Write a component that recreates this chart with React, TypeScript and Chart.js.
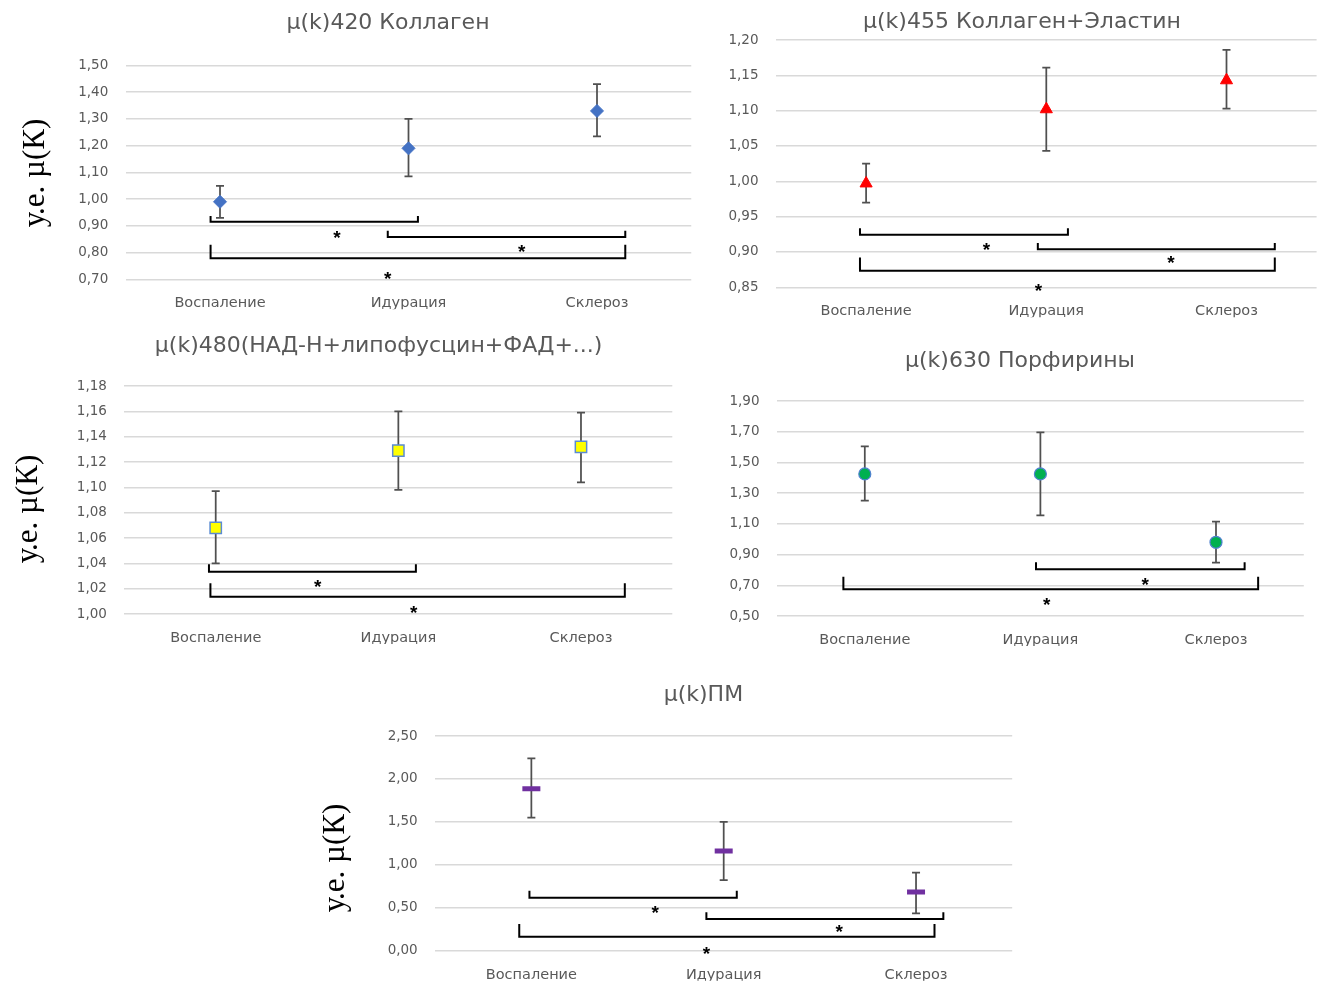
import React, { useEffect, useRef } from "react";
import { Chart, registerables } from "chart.js";

Chart.register(...registerables);

// ---------- data ----------
const categories = ["Воспаление", "Идурация", "Склероз"];

// µ(k)420 Коллаген
const k420Axis = [0.7, 1.5, 0.1];
const k420Mean = [0.99, 1.19, 1.33];
const k420Upper = [1.05, 1.3, 1.43];
const k420Lower = [0.93, 1.085, 1.235];
// [fromCategory, toCategory, lineValue, tickTopValue]
const k420Brackets = [
  [-0.05, 1.05, 0.915, 0.937],
  [0.89, 2.15, 0.858, 0.882],
  [-0.05, 2.15, 0.779, 0.829],
];
const k420Stars = [
  [0.62, 0.874],
  [1.6, 0.822],
  [0.89, 0.721],
];

// µ(k)455 Коллаген+Эластин
const k455Axis = [0.85, 1.2, 0.05];
const k455Mean = [0.997, 1.102, 1.143];
const k455Upper = [1.025, 1.161, 1.186];
const k455Lower = [0.97, 1.043, 1.103];
const k455Brackets = [
  [-0.034, 1.12, 0.9245, 0.9335],
  [0.953, 2.268, 0.9038, 0.9127],
  [-0.034, 2.268, 0.8735, 0.892],
];
const k455Stars = [
  [0.668, 0.909],
  [1.692, 0.891],
  [0.957, 0.852],
];

// µ(k)480 (НАД-Н+липофусцин+ФАД+...)
const k480Axis = [1.0, 1.18, 0.02];
const k480Mean = [1.068, 1.129, 1.132];
const k480Upper = [1.097, 1.16, 1.159];
const k480Lower = [1.04, 1.098, 1.104];
const k480Brackets = [
  [-0.037, 1.096, 1.0334, 1.0392],
  [-0.029, 2.24, 1.0137, 1.0242],
];
const k480Stars = [
  [0.559, 1.025],
  [1.084, 1.0045],
];

// µ(k)630 Порфирины
const k630Axis = [0.5, 1.9, 0.2];
const k630Mean = [1.425, 1.425, 0.98];
const k630Upper = [1.605, 1.696, 1.114];
const k630Lower = [1.251, 1.156, 0.847];
const k630Brackets = [
  [0.975, 2.163, 0.804, 0.85],
  [-0.122, 2.24, 0.674, 0.756],
];
const k630Stars = [
  [1.597, 0.734],
  [1.036, 0.6],
];

// µ(k)ПМ
const kPMAxis = [0.0, 2.5, 0.5];
const kPMMean = [1.886, 1.161, 0.684];
const kPMUpper = [2.24, 1.499, 0.908];
const kPMLower = [1.549, 0.823, 0.435];
const kPMBrackets = [
  [-0.01, 1.068, 0.617, 0.699],
  [0.91, 2.142, 0.369, 0.447],
  [-0.063, 2.096, 0.163, 0.311],
];
const kPMStars = [
  [0.644, 0.501],
  [1.6, 0.272],
  [0.91, 0.02],
];

// ---------- styles / layout ----------
const TEXT_GRAY = "#595959";
const SANS = "'DejaVu Sans', sans-serif";
const TITLE_SIZE = 22;
const XTICK_SIZE = 14.5;
const YTICK_SIZE = 13.5;
const XH = 30;
const YW = 60;
const Y_TITLE_TEXT = "у.е. µ(К)";

type Spec = {
  title: string;
  axis: number[];
  mean: number[];
  upper: number[];
  lower: number[];
  brackets: number[][];
  stars: number[][];
  marker: any;
  box: { x: number; y: number; h: number };
  area: { l: number; t: number; r: number; b: number };
  titleCx: number;
  titleCy: number;
  labelCy: number;
  yTitle?: { cx: number; cy: number };
};

const specs: Spec[] = [
  {
    title: "µ(k)420 Коллаген",
    axis: k420Axis, mean: k420Mean, upper: k420Upper, lower: k420Lower,
    brackets: k420Brackets, stars: k420Stars,
    marker: { pointStyle: "rectRot", pointRadius: 6.5, pointBackgroundColor: "#4472C4", pointBorderColor: "#4472C4", pointBorderWidth: 1 },
    box: { x: 0, y: 0, h: 325 },
    area: { l: 125.75, t: 65.5, r: 691.25, b: 279.3 },
    titleCx: 388, titleCy: 23, labelCy: 303,
    yTitle: { cx: 36, cy: 173 },
  },
  {
    title: "µ(k)455 Коллаген+Эластин",
    axis: k455Axis, mean: k455Mean, upper: k455Upper, lower: k455Lower,
    brackets: k455Brackets, stars: k455Stars,
    marker: { pointStyle: "triangle", pointRadius: 7, pointBackgroundColor: "#FF0000", pointBorderColor: "#FF0000", pointBorderWidth: 1 },
    box: { x: 700, y: 0, h: 330 },
    area: { l: 776, t: 40, r: 1316.6, b: 287.3 },
    titleCx: 1022, titleCy: 22.7, labelCy: 311.7,
  },
  {
    title: "µ(k)480(НАД-Н+липофусцин+ФАД+...)",
    axis: k480Axis, mean: k480Mean, upper: k480Upper, lower: k480Lower,
    brackets: k480Brackets, stars: k480Stars,
    marker: { pointStyle: "rect", pointRadius: 8, pointBackgroundColor: "#FFFF00", pointBorderColor: "#5B8BD3", pointBorderWidth: 1.5 },
    box: { x: 0, y: 325, h: 335 },
    area: { l: 124.4, t: 386, r: 672.3, b: 614 },
    titleCx: 378.6, titleCy: 346.7, labelCy: 638.3,
    yTitle: { cx: 29, cy: 509 },
  },
  {
    title: "µ(k)630 Порфирины",
    axis: k630Axis, mean: k630Mean, upper: k630Upper, lower: k630Lower,
    brackets: k630Brackets, stars: k630Stars,
    marker: { pointStyle: "circle", pointRadius: 6, pointBackgroundColor: "#00B050", pointBorderColor: "#4F81D0", pointBorderWidth: 1.2 },
    box: { x: 700, y: 330, h: 335 },
    area: { l: 777, t: 401, r: 1303.8, b: 616 },
    titleCx: 1020, titleCy: 361, labelCy: 640,
  },
  {
    title: "µ(k)ПМ",
    axis: kPMAxis, mean: kPMMean, upper: kPMUpper, lower: kPMLower,
    brackets: kPMBrackets, stars: kPMStars,
    marker: { pointStyle: "line", pointRadius: 9, pointBorderColor: "#7030A0", pointBackgroundColor: "#7030A0", pointBorderWidth: 5 },
    box: { x: 300, y: 665, h: 320 },
    area: { l: 435.2, t: 736, r: 1012.2, b: 950.7 },
    titleCx: 703.4, titleCy: 695.5, labelCy: 975,
    yTitle: { cx: 336, cy: 858 },
  },
];

// ---------- plugins ----------
function errorBarPlugin(spec: Spec) {
  return {
    id: "errorBars",
    beforeDatasetsDraw(chart: any) {
      const { ctx, scales } = chart;
      const x = scales.x, y = scales.y;
      ctx.save();
      ctx.strokeStyle = "#505050";
      ctx.lineWidth = 1.75;
      const cap = 4;
      spec.upper.forEach((u, i) => {
        const px = x.getPixelForValue(i);
        const pu = y.getPixelForValue(u);
        const pl = y.getPixelForValue(spec.lower[i]);
        ctx.beginPath();
        ctx.moveTo(px, pu);
        ctx.lineTo(px, pl);
        ctx.moveTo(px - cap, pu);
        ctx.lineTo(px + cap, pu);
        ctx.moveTo(px - cap, pl);
        ctx.lineTo(px + cap, pl);
        ctx.stroke();
      });
      ctx.restore();
    },
  };
}

function bracketPlugin(spec: Spec) {
  return {
    id: "brackets",
    afterDatasetsDraw(chart: any) {
      const { ctx, scales } = chart;
      const x = scales.x, y = scales.y;
      ctx.save();
      ctx.strokeStyle = "#000";
      ctx.lineWidth = 2;
      spec.brackets.forEach(([a, b, v, top]) => {
        const x1 = x.getPixelForValue(a);
        const x2 = x.getPixelForValue(b);
        const py = y.getPixelForValue(v);
        const pt = y.getPixelForValue(top);
        ctx.beginPath();
        ctx.moveTo(x1, pt);
        ctx.lineTo(x1, py);
        ctx.lineTo(x2, py);
        ctx.lineTo(x2, pt);
        ctx.stroke();
      });
      const starSize = 19;
      ctx.fillStyle = "#000";
      ctx.font = `bold ${starSize}px 'Liberation Sans', sans-serif`;
      ctx.textAlign = "center";
      ctx.textBaseline = "alphabetic";
      spec.stars.forEach(([a, v]) => {
        ctx.fillText("*", x.getPixelForValue(a), y.getPixelForValue(v) + starSize * 0.57);
      });
      ctx.restore();
    },
  };
}

function yTitlePlugin(spec: Spec) {
  return {
    id: "yTitleText",
    afterDraw(chart: any) {
      if (!spec.yTitle) return;
      const { ctx } = chart;
      ctx.save();
      ctx.translate(spec.yTitle.cx - spec.box.x, spec.yTitle.cy - spec.box.y);
      ctx.rotate(-Math.PI / 2);
      ctx.fillStyle = "#000";
      ctx.font = "31px 'Liberation Serif', serif";
      ctx.textAlign = "center";
      ctx.textBaseline = "middle";
      ctx.fillText(Y_TITLE_TEXT, 0, 0);
      ctx.restore();
    },
  };
}

function fmt(v: number) {
  return Number(v).toFixed(2).replace(".", ",");
}

function geometry(spec: Spec) {
  const { box, area } = spec;
  // extra right-hand space so that the full-width title is centred where the reference has it
  const rightBox = 2 * spec.titleCx - area.l - area.r + YW;
  const padL = area.l - YW - box.x;
  const w = Math.ceil(area.r + rightBox - box.x + 2);
  const padR = box.x + w - area.r - rightBox;
  return { rightBox, padL, padR, w };
}

function buildConfig(spec: Spec): any {
  const { box, area } = spec;
  const { rightBox, padL, padR } = geometry(spec);
  const titleTop = spec.titleCy - box.y - TITLE_SIZE * 0.6;
  const titleBottom = area.t - box.y - titleTop - TITLE_SIZE * 1.2;
  const xPad = spec.labelCy - area.b - XTICK_SIZE * 0.6;
  const padB = box.y + box.h - area.b - XH;
  const [yMin, yMax, yStep] = spec.axis;
  return {
    type: "line",
    data: {
      labels: categories,
      datasets: [
        {
          data: spec.mean,
          showLine: false,
          ...spec.marker,
        },
      ],
    },
    options: {
      animation: false,
      responsive: false,
      maintainAspectRatio: false,
      events: [],
      layout: { padding: { left: padL, right: padR, top: 0, bottom: padB } },
      plugins: {
        legend: { display: false },
        tooltip: { enabled: false },
        title: {
          display: true,
          fullSize: true,
          text: spec.title,
          color: TEXT_GRAY,
          font: { family: SANS, size: TITLE_SIZE, weight: "normal", lineHeight: 1.2 },
          padding: { top: titleTop, bottom: titleBottom },
        },
      },
      scales: {
        x: {
          type: "category",
          offset: true,
          grid: { display: false, drawTicks: false },
          border: { display: false },
          ticks: {
            color: TEXT_GRAY,
            font: { family: SANS, size: XTICK_SIZE, lineHeight: 1.2 },
            padding: xPad,
            maxRotation: 0,
            autoSkip: false,
          },
          afterFit: (s: any) => {
            s.height = XH;
          },
        },
        y: {
          type: "linear",
          position: "left",
          min: yMin,
          max: yMax,
          grid: { color: "#D9D9D9", lineWidth: 1.5, drawTicks: false },
          border: { display: false },
          ticks: {
            stepSize: yStep,
            color: TEXT_GRAY,
            font: { family: SANS, size: YTICK_SIZE, lineHeight: 1.2 },
            padding: 17.5,
            autoSkip: false,
            callback: (v: number) => fmt(v),
          },
          afterFit: (s: any) => {
            s.width = YW;
          },
        },
        spacer: {
          type: "linear",
          position: "right",
          display: true,
          grid: { display: false, drawTicks: false },
          border: { display: false },
          ticks: { display: false },
          afterFit: (s: any) => {
            s.width = rightBox;
          },
        },
      },
    },
    plugins: [errorBarPlugin(spec), bracketPlugin(spec), yTitlePlugin(spec)],
  };
}

function ChartBox({ spec }: { spec: Spec }) {
  const ref = useRef<HTMLCanvasElement>(null);
  const { w } = geometry(spec);
  useEffect(() => {
    if (!ref.current) return;
    const chart = new Chart(ref.current, buildConfig(spec));
    return () => chart.destroy();
  }, [spec]);
  return (
    <canvas
      ref={ref}
      width={w}
      height={spec.box.h}
      style={{
        position: "absolute",
        left: spec.box.x,
        top: spec.box.y,
        width: w,
        height: spec.box.h,
      }}
    />
  );
}

export default function App() {
  return (
    <div
      style={{
        position: "absolute",
        left: 0,
        top: 0,
        width: 1324,
        height: 985,
        background: "#ffffff",
        overflow: "hidden",
      }}
    >
      {specs.map((s) => (
        <ChartBox key={s.title} spec={s} />
      ))}
    </div>
  );
}
